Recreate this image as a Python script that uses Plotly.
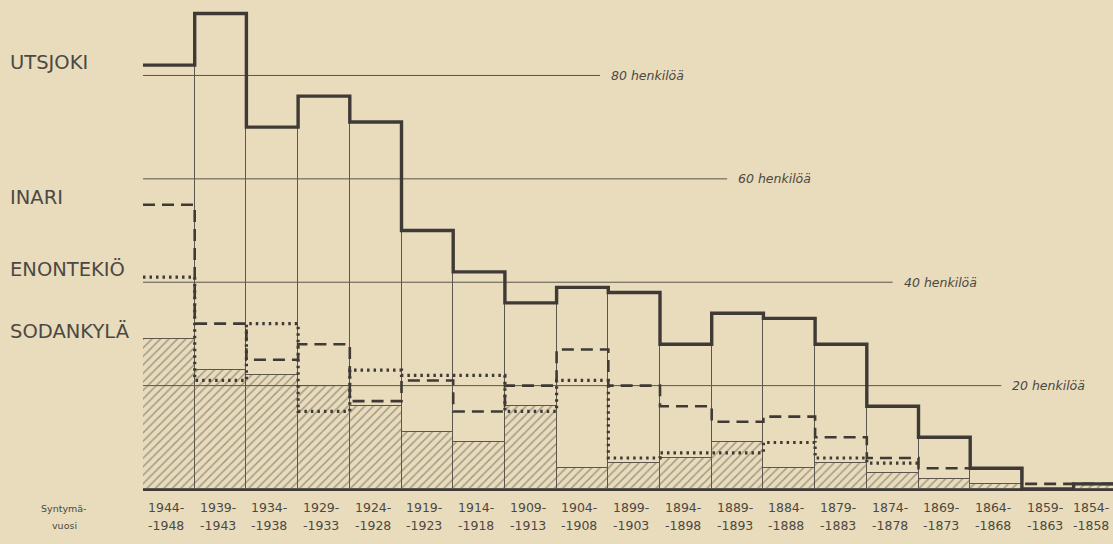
import plotly.graph_objects as go

# ---------------- data ----------------
period_start = ["1944-", "1939-", "1934-", "1929-", "1924-", "1919-", "1914-", "1909-", "1904-", "1899-",
                "1894-", "1889-", "1884-", "1879-", "1874-", "1869-", "1864-", "1859-", "1854-"]
period_end = ["-1948", "-1943", "-1938", "-1933", "-1928", "-1923", "-1918", "-1913", "-1908", "-1903",
              "-1898", "-1893", "-1888", "-1883", "-1878", "-1873", "-1868", "-1863", "-1858"]

utsjoki = [82, 92, 70, 76, 71, 50, 42, 36, 39, 38, 28, 34, 33, 28, 16, 10, 4, 0, 1]
inari = [55, 32, 25, 28, 17, 21, 15, 20, 27, 20, 16, 13, 14, 10, 6, 4, 4, 1, 1]
enontekio = [41, 21, 32, 15, 23, 22, 22, 15, 21, 6, 7, 7, 9, 6, 5]
sodankyla = [29, 23, 22, 20, 16, 11, 9, 16, 4, 5, 6, 9, 4, 5, 3, 2, 1, 0, 1]

municipalities = ["UTSJOKI", "INARI", "ENONTEKIÖ", "SODANKYLÄ"]
ref_levels = [80, 60, 40, 20]
ref_labels = ["80 henkilöä", "60 henkilöä", "40 henkilöä", "20 henkilöä"]
axis_caption = ["Syntymä-", "vuosi"]

# ---------------- layout constants ----------------
W, H = 1113, 544
ML, MB = 143, 55
COL_PX = 51.7
X_MAX = (W - ML) / COL_PX
Y_MAX = 94.6
ref_line_end = [8.84, 11.3, 14.5, 16.6]
label_y = [82.6, 56.3, 42.4, 30.4]

PAPER = "#e8dcbc"
INK = "#3f3a35"
THIN = "#5c564d"
TEXT = "#4d4842"

n = len(period_start)
centers = [i + 0.5 for i in range(n)]


def step(vals):
    return list(vals) + [vals[-1]], list(range(len(vals) + 1))


fig = go.Figure()

# Sodankylä hatched bars
fig.add_trace(go.Bar(
    x=centers, y=sodankyla, width=1,
    marker=dict(color="rgba(0,0,0,0)",
                line=dict(color=THIN, width=1),
                pattern=dict(shape="/", fgcolor=THIN, bgcolor="rgba(0,0,0,0)",
                             size=6, solidity=0.25)),
    hoverinfo="skip", showlegend=False))

# Utsjoki outline boxes (thin verticals)
fig.add_trace(go.Bar(
    x=centers, y=utsjoki, width=1,
    marker=dict(color="rgba(0,0,0,0)", line=dict(color=THIN, width=1)),
    hoverinfo="skip", showlegend=False))

# Enontekiö dotted step
ey, ex = step(enontekio)
fig.add_trace(go.Scatter(x=ex, y=ey, mode="lines", line_shape="hv",
                         line=dict(color=INK, width=3.2, dash="2.5px,4px"),
                         hoverinfo="skip", showlegend=False))

# Inari dashed step
iy, ix = step(inari)
fig.add_trace(go.Scatter(x=ix, y=iy, mode="lines", line_shape="hv",
                         line=dict(color=INK, width=2.6, dash="12px,7px"),
                         hoverinfo="skip", showlegend=False))

# Utsjoki thick step
uy, ux = step(utsjoki)
fig.add_trace(go.Scatter(x=ux, y=uy, mode="lines", line_shape="hv",
                         line=dict(color=INK, width=3.4),
                         hoverinfo="skip", showlegend=False))

# reference lines + labels
for lvl, lab, xe in zip(ref_levels, ref_labels, ref_line_end):
    fig.add_shape(type="line", x0=0, x1=xe, y0=lvl, y1=lvl, xref="x", yref="y",
                  line=dict(color=THIN, width=1), layer="below")
    fig.add_annotation(x=xe, y=lvl, xref="x", yref="y", text=f"<i>{lab}</i>",
                       showarrow=False, xanchor="left", yanchor="middle", xshift=9,
                       font=dict(family="DejaVu Sans", size=12.5, color=TEXT))

# municipality labels
for name, yy in zip(municipalities, label_y):
    fig.add_annotation(x=0, y=yy, xref="paper", yref="y", text=name, showarrow=False,
                       xanchor="left", yanchor="middle", xshift=-ML + 8,
                       font=dict(family="DejaVu Sans", size=19.5, color=TEXT))

# period labels
for i, (c, a, b) in enumerate(zip(centers, period_start, period_end)):
    last = i == n - 1
    for k, t in enumerate((a, b)):
        if last:
            fig.add_annotation(x=1, y=0, xref="paper", yref="paper", text=t, showarrow=False,
                               xanchor="right", yanchor="middle", yshift=-18 - 18 * k, xshift=-2,
                               font=dict(family="DejaVu Sans", size=12.5, color=TEXT))
        else:
            fig.add_annotation(x=c, y=0, xref="x", yref="paper", text=t, showarrow=False,
                               xanchor="center", yanchor="middle", yshift=-18 - 18 * k, xshift=-3,
                               font=dict(family="DejaVu Sans", size=12.5, color=TEXT))

for k, t in enumerate(axis_caption):
    fig.add_annotation(x=0, y=0, xref="paper", yref="paper", text=t, showarrow=False,
                       xanchor="center", yanchor="middle", xshift=-ML + 64, yshift=-19 - 17 * k,
                       font=dict(family="DejaVu Sans", size=9.5, color=TEXT))

fig.update_layout(
    width=W, height=H,
    margin=dict(l=ML, r=0, t=0, b=MB, autoexpand=False),
    paper_bgcolor=PAPER, plot_bgcolor=PAPER,
    barmode="overlay", bargap=0,
    showlegend=False,
    xaxis=dict(range=[0, X_MAX], showgrid=False, zeroline=False, showticklabels=False,
               ticks="", showline=True, linecolor=INK, linewidth=2, mirror=False),
    yaxis=dict(range=[0, Y_MAX], showgrid=False, zeroline=False, showticklabels=False,
               ticks="", showline=False),
)

fig.write_html("out.html", config={"displayModeBar": False},
               post_script="document.body.style.margin='0';document.body.style.background='" + PAPER + "';")
